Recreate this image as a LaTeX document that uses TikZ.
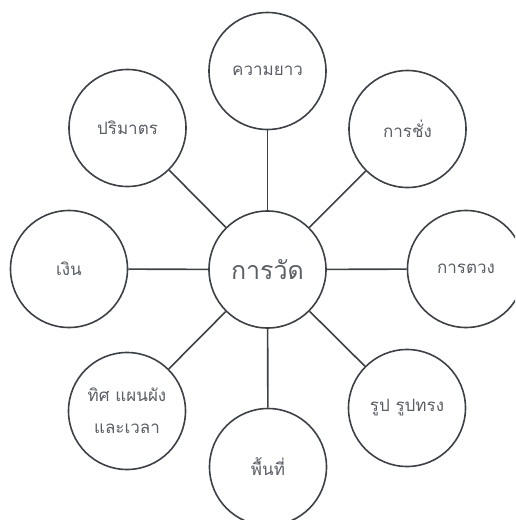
\documentclass[tikz,border=0pt]{standalone}
\usepackage{fontspec}
\newfontfamily\thaifont[Script=Thai]{Loma}
\definecolor{edge}{HTML}{3C4048}
\definecolor{txt}{HTML}{5A5E66}
\begin{document}
\begin{tikzpicture}[x=1pt,y=-1pt,
  outer/.style={circle,draw=edge,line width=1.6pt,minimum size=117pt,inner sep=0pt,
    font=\thaifont\fontsize{17}{32}\selectfont,text=txt,align=center},
  hub/.style={outer,font=\thaifont\fontsize{25}{30}\selectfont},
  link/.style={draw=edge,line width=1.6pt}]
\useasboundingbox (0,0) rectangle (515,520);
\clip (0,0) rectangle (515,520);
\node[hub] (c) at (267.5,269.5) {การวัด};
\node[outer] (n) at (267.5,71) {ความยาว};
\node[outer] (ne) at (407.5,129) {การชั่ง};
\node[outer] (e) at (466,269) {การตวง};
\node[outer] (se) at (407,408) {รูป รูปทรง};
\node[outer] (s) at (268,467) {พื้นที่};
\node[outer] (sw) at (127,411) {ทิศ แผนผัง\\และเวลา};
\node[outer] (w) at (69,269) {เงิน};
\node[outer] (nw) at (127.5,128) {ปริมาตร};
\foreach \o in {n,ne,e,se,s,sw,w,nw} \draw[link] (c) -- (\o);
\end{tikzpicture}
\end{document}
